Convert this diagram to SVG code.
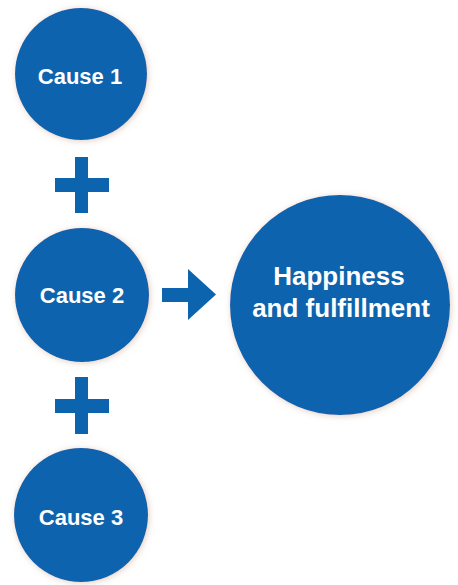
<svg xmlns="http://www.w3.org/2000/svg" width="458" height="585" viewBox="0 0 458 585">
  <defs>
    <filter id="glow" x="-20%" y="-20%" width="140%" height="140%">
      <feGaussianBlur in="SourceAlpha" stdDeviation="3"/>
      <feOffset dx="1" dy="1" result="b"/>
      <feFlood flood-color="#c9a88e" flood-opacity="0.55"/>
      <feComposite in2="b" operator="in"/>
      <feMerge><feMergeNode/><feMergeNode in="SourceGraphic"/></feMerge>
    </filter>
  </defs>
  <style>
    .node { fill: #0b64ad; filter: url(#glow); }
    .lbl { fill: #ffffff; font-family: "Liberation Sans", Arial, sans-serif; font-weight: bold; text-anchor: middle; }
    .small { font-size: 22px; }
    .big { font-size: 26px; }
    .sym { fill: #0b64ad; }
  </style>
  <rect width="458" height="585" fill="#ffffff"/>
  <g id="cause1">
    <circle class="node" cx="81" cy="74" r="66"/>
    <text class="lbl small" x="80" y="84">Cause 1</text>
  </g>
  <g id="cause2">
    <circle class="node" cx="82" cy="295" r="67"/>
    <text class="lbl small" x="82" y="303">Cause 2</text>
  </g>
  <g id="cause3">
    <circle class="node" cx="81" cy="515" r="67"/>
    <text class="lbl small" x="81" y="525">Cause 3</text>
  </g>
  <g id="result">
    <circle class="node" cx="340" cy="305" r="110"/>
    <text class="lbl big" x="339" y="285">Happiness</text>
    <text class="lbl big" x="341" y="317">and fulfillment</text>
  </g>
  <g id="connectors">
    <path class="sym" d="M75,157 H88 V178 H109 V192 H88 V213 H75 V192 H55 V178 H75 Z"/>
    <path class="sym" d="M75,377 H88 V399 H109 V413 H88 V434 H75 V413 H55 V399 H75 Z"/>
    <path class="sym" d="M162,288 H188 V269 L216,294.5 L188,320 V302 H162 Z"/>
  </g>
</svg>
